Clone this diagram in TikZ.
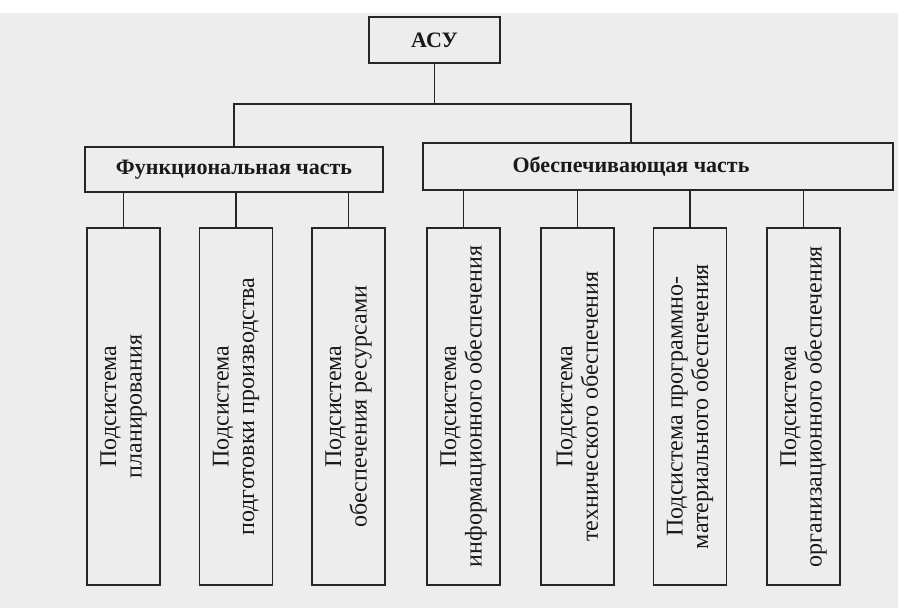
\documentclass[tikz,border=0pt]{standalone}
\usepackage{fontspec}
\setmainfont{Liberation Serif}
\begin{document}
\begin{tikzpicture}[x=1pt,y=-1pt,
  line width=1.4pt,
  conn/.style={draw=black!85, line width=1.4pt},
  boxstyle/.style={draw=black!85, line width=1.4pt, inner sep=0pt},
  headtext/.style={font=\bfseries\fontsize{22}{26}\selectfont, text=black!90},
  subbox/.style={boxstyle, minimum width=73pt, minimum height=357pt},
  subtext/.style={rotate=90, align=center, font=\fontsize{24}{25.5}\selectfont, text=black!90, inner sep=0pt}]
\useasboundingbox (0,0) rectangle (898,608);
\fill[white] (0,0) rectangle (898,608);
\fill[black!7] (0,13) rectangle (898,608);

% top
\node[boxstyle, minimum width=131pt, minimum height=46pt] (asu) at (434.5,40) {};
\node[headtext] (asut) at (asu.center) {АСУ};

% second level
\node[boxstyle, minimum width=298pt, minimum height=45pt] (func) at (234,169.5) {};
\node[headtext] (funct) at (func.center) {Функциональная часть};
\node[boxstyle, minimum width=470pt, minimum height=47pt] (supp) at (658,166.5) {};
\coordinate (sb) at (631,104);
\node[headtext] (suppt) at (supp.center -| sb) {Обеспечивающая часть};

% bus
\coordinate (ab) at (asu.south |- sb);
\draw[conn] (asu.south) -- (ab);
\draw[conn] (func.north) |- (sb) -- (sb |- supp.north);

% third level
\node[subbox] (s1) at (123.5,406.5) {};
\node[subbox] (s2) at (236,406.5) {};
\node[subbox] (s3) at (348.5,406.5) {};
\node[subbox] (s4) at (463.5,406.5) {};
\node[subbox] (s5) at (577.5,406.5) {};
\node[subbox] (s6) at (690,406.5) {};
\node[subbox] (s7) at (803.5,406.5) {};

\node[subtext] (t1) at (s1.center) {Подсистема\\планирования};
\node[subtext] (t2) at (s2.center) {Подсистема\\подготовки производства};
\node[subtext] (t3) at (s3.center) {Подсистема\\обеспечения ресурсами};
\node[subtext] (t4) at (s4.center) {Подсистема\\информационного обеспечения};
\node[subtext] (t5) at (s5.center) {Подсистема\\технического обеспечения};
\node[subtext] (t6) at (s6.center) {Подсистема программно-\\материального обеспечения};
\node[subtext] (t7) at (s7.center) {Подсистема\\организационного обеспечения};

\foreach \s in {s1,s2,s3} \draw[conn] (\s.north) -- (\s.north |- func.south);
\foreach \s in {s4,s5,s6,s7} \draw[conn] (\s.north) -- (\s.north |- supp.south);
\end{tikzpicture}
\end{document}
